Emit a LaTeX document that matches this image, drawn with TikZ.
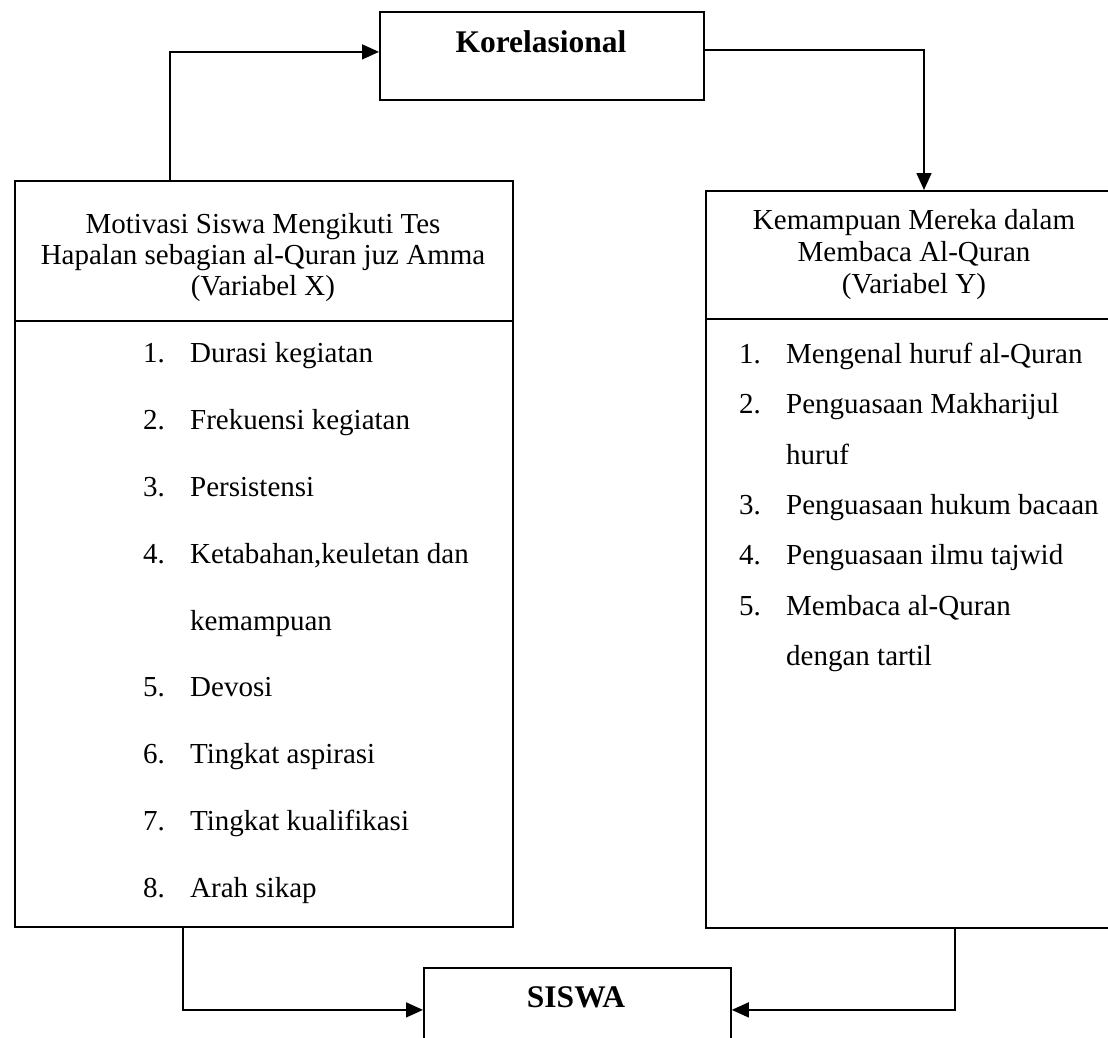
\documentclass[tikz,border=0pt]{standalone}
\usepackage{fontspec}
\setmainfont{Liberation Serif}
\usetikzlibrary{arrows.meta}
\tikzset{
  box/.style={draw, line width=1.8pt, inner sep=0pt, anchor=north west},
  ln/.style={line width=1.8pt},
  arr/.style={line width=1.5pt, -{Triangle[length=17pt,width=15pt]}},
  reg/.style={font=\fontsize{29}{33}\selectfont, inner sep=0pt},
  hdr/.style={reg, anchor=base},
  itm/.style={reg, anchor=base west},
  ttl/.style={font=\bfseries\fontsize{31.5}{36}\selectfont, inner sep=0pt, anchor=base},
}
\begin{document}
\begin{tikzpicture}[x=1pt,y=-1pt]
\useasboundingbox (0,0) rectangle (1108,1037);
\clip (0,0) rectangle (1108,1037);

% boxes
\node[box, minimum width=324pt, minimum height=88pt] (kor) at (379,11) {};
\node[box, minimum width=498pt, minimum height=746pt] (xbox) at (14,180) {};
\node[box, minimum width=418pt, minimum height=737pt] (ybox) at (705,190) {};
\node[box, minimum width=307pt, minimum height=100pt] (siswa) at (423,967) {};

% dividers
\draw[ln] (xbox.west |- 0,321) -- (xbox.east |- 0,321);
\draw[ln] (ybox.west |- 0,319) -- (ybox.east |- 0,319);

% titles
\node[ttl] (kort) at (541,52) {Korelasional};
\node[ttl] (sist) at (576,1007) {SISWA};

% header X
\node[hdr] (hx1) at (263,233) {Motivasi Siswa Mengikuti Tes};
\node[hdr] (hx2) at (263,264) {Hapalan sebagian al-Quran juz Amma};
\node[hdr] (hx3) at (263,295) {(Variabel X)};

% header Y
\node[hdr] (hy1) at (914,229) {Kemampuan Mereka dalam};
\node[hdr] (hy2) at (914,261) {Membaca Al-Quran};
\node[hdr] (hy3) at (914,293) {(Variabel Y)};

% list X
\node[itm] (xn1) at (143,362) {1.}; \node[itm] (xt1) at (190,362) {Durasi kegiatan};
\node[itm] (xn2) at (143,429) {2.}; \node[itm] (xt2) at (190,429) {Frekuensi kegiatan};
\node[itm] (xn3) at (143,496) {3.}; \node[itm] (xt3) at (190,496) {Persistensi};
\node[itm] (xn4) at (143,563) {4.}; \node[itm] (xt4) at (190,563) {Ketabahan,keuletan dan};
\node[itm] (xt4b) at (190,630) {kemampuan};
\node[itm] (xn5) at (143,696) {5.}; \node[itm] (xt5) at (190,696) {Devosi};
\node[itm] (xn6) at (143,763) {6.}; \node[itm] (xt6) at (190,763) {Tingkat aspirasi};
\node[itm] (xn7) at (143,830) {7.}; \node[itm] (xt7) at (190,830) {Tingkat kualifikasi};
\node[itm] (xn8) at (143,897) {8.}; \node[itm] (xt8) at (190,897) {Arah sikap};

% list Y
\node[itm] (yn1) at (739,363) {1.}; \node[itm] (yt1) at (786,363) {Mengenal huruf al-Quran};
\node[itm] (yn2) at (739,413) {2.}; \node[itm] (yt2) at (786,413) {Penguasaan Makharijul};
\node[itm] (yt2b) at (786,464) {huruf};
\node[itm] (yn3) at (739,514) {3.}; \node[itm] (yt3) at (786,514) {Penguasaan hukum bacaan};
\node[itm] (yn4) at (739,564) {4.}; \node[itm] (yt4) at (786,564) {Penguasaan ilmu tajwid};
\node[itm] (yn5) at (739,615) {5.}; \node[itm] (yt5) at (786,615) {Membaca al-Quran};
\node[itm] (yt5b) at (786,665) {dengan tartil};

% connectors
\coordinate (xtop) at ([xshift=156pt]xbox.north west);
\coordinate (ytop) at ([xshift=219pt]ybox.north west);
\coordinate (xbot) at ([xshift=169pt]xbox.south west);
\coordinate (ybot) at ([xshift=250pt]ybox.south west);
\draw[arr] (xtop) |- ([yshift=4pt]kor.west);
\draw[arr] ([yshift=6pt]kor.east) -| (ytop);
\draw[arr] (xbot) |- ([yshift=8pt]siswa.west);
\draw[arr] (ybot) |- ([yshift=8pt]siswa.east);
\end{tikzpicture}
\end{document}
